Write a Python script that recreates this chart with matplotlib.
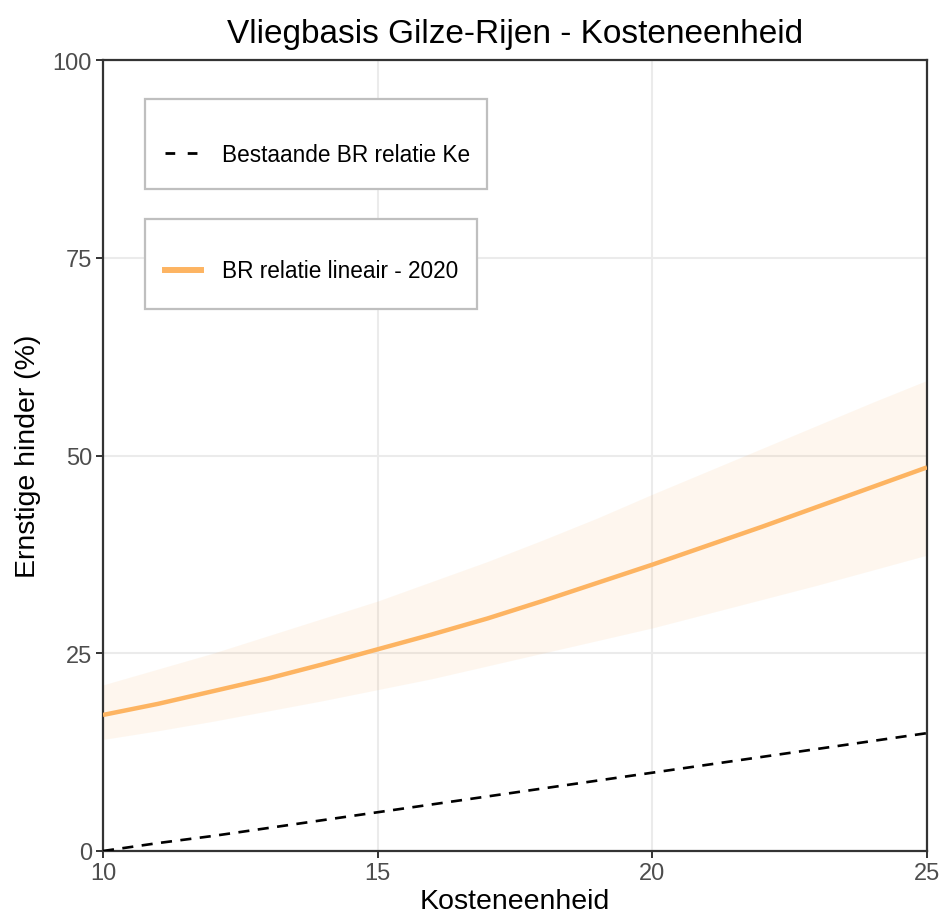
import matplotlib
matplotlib.use("Agg")
import matplotlib.pyplot as plt
from matplotlib.lines import Line2D
from matplotlib.patches import Rectangle

plt.rcParams['font.family'] = ['Liberation Sans', 'DejaVu Sans']

# Kosteneenheid (Ke) values
ke = [10, 11, 12, 13, 14, 15, 16, 17, 18, 19, 20, 21, 22, 23, 24, 25]
# existing dose-response relation (Ke)
bestaand = [0.0, 1.0, 1.9, 2.9, 3.9, 4.9, 5.9, 6.9, 7.9, 8.9, 9.9, 10.9, 11.9, 12.9, 13.9, 14.9]
# linear dose-response relation 2020 with confidence band
lineair = [17.2, 18.6, 20.2, 21.8, 23.6, 25.5, 27.4, 29.4, 31.6, 33.9, 36.2, 38.6, 41.0, 43.5, 46.0, 48.5]
lineair_hi = [21.0, 23.0, 25.0, 27.2, 29.4, 31.6, 34.1, 36.6, 39.3, 42.1, 45.1, 48.0, 50.9, 53.8, 56.7, 59.5]
lineair_lo = [14.1, 15.2, 16.4, 17.7, 19.0, 20.4, 21.8, 23.4, 25.0, 26.6, 28.2, 30.0, 31.8, 33.6, 35.5, 37.4]

x_ticks = [10, 15, 20, 25]
y_ticks = [0, 25, 50, 75, 100]

W, H = 943, 920
L, R, T, B = 103, 927, 61, 852
fig = plt.figure(figsize=(W / 100, H / 100), dpi=100)
ax = fig.add_axes([L / W, 1 - B / H, (R - L) / W, (B - T) / H])

orange = '#fdb462'
ax.fill_between(ke, lineair_lo, lineair_hi, color='#fdae61', alpha=0.1, linewidth=0, zorder=2)
ax.plot(ke, lineair, color=orange, linewidth=3.2, solid_capstyle='butt', zorder=4)
ax.plot(ke, bestaand, color='black', linewidth=1.9, dashes=(4.2, 3.2), zorder=3)

ax.set_xlim(10, 25)
ax.set_ylim(0, 100)
ax.set_xticks(x_ticks)
ax.set_yticks(y_ticks)
ax.grid(True, color='#ebebeb', linewidth=1.5, zorder=0)
ax.set_axisbelow(True)
for s in ax.spines.values():
    s.set_color('#333333')
    s.set_linewidth(1.6)
ax.tick_params(axis='both', direction='out', length=5, width=1.4, color='#333333',
               labelcolor='#4d4d4d', labelsize=17, pad=3)

ax.set_xlabel('Kosteneenheid', fontsize=20.5, labelpad=3)
ax.set_ylabel('Ernstige hinder (%)', fontsize=20.5, labelpad=8)
ax.set_title('Vliegbasis Gilze-Rijen - Kosteneenheid', fontsize=24, pad=13)

# legend boxes
def px_to_ax(x, y):
    return (x - L) / (R - L), (B - y) / (B - T)

for (x0, y0, x1, y1) in [(145, 100, 487, 190), (145, 220, 477, 310)]:
    ax0, ay1 = px_to_ax(x0, y0)
    ax1, ay0 = px_to_ax(x1, y1)
    ax.add_patch(Rectangle((ax0, ay0), ax1 - ax0, ay1 - ay0, transform=ax.transAxes,
                           facecolor='white', edgecolor='#bfbfbf', linewidth=1.6, zorder=5))

h1 = Line2D([], [], color='black', linewidth=2.0, dashes=(3.5, 4.5))
h2 = Line2D([], [], color=orange, linewidth=4.3)
lx, ly1 = px_to_ax(165, 155)
_, ly2 = px_to_ax(165, 272)
common = dict(loc='center left', frameon=False, fontsize=16.3, handlelength=1.6,
              handletextpad=0.9, borderaxespad=0, borderpad=0)
leg1 = ax.legend([h1], ['Bestaande BR relatie Ke'], bbox_to_anchor=(lx, ly1), **common)
leg1.set_zorder(6)
ax.add_artist(leg1)
leg2 = ax.legend([h2], ['BR relatie lineair - 2020'], bbox_to_anchor=(lx, ly2), **common)
leg2.set_zorder(6)

fig.savefig('out.png', dpi=100)
